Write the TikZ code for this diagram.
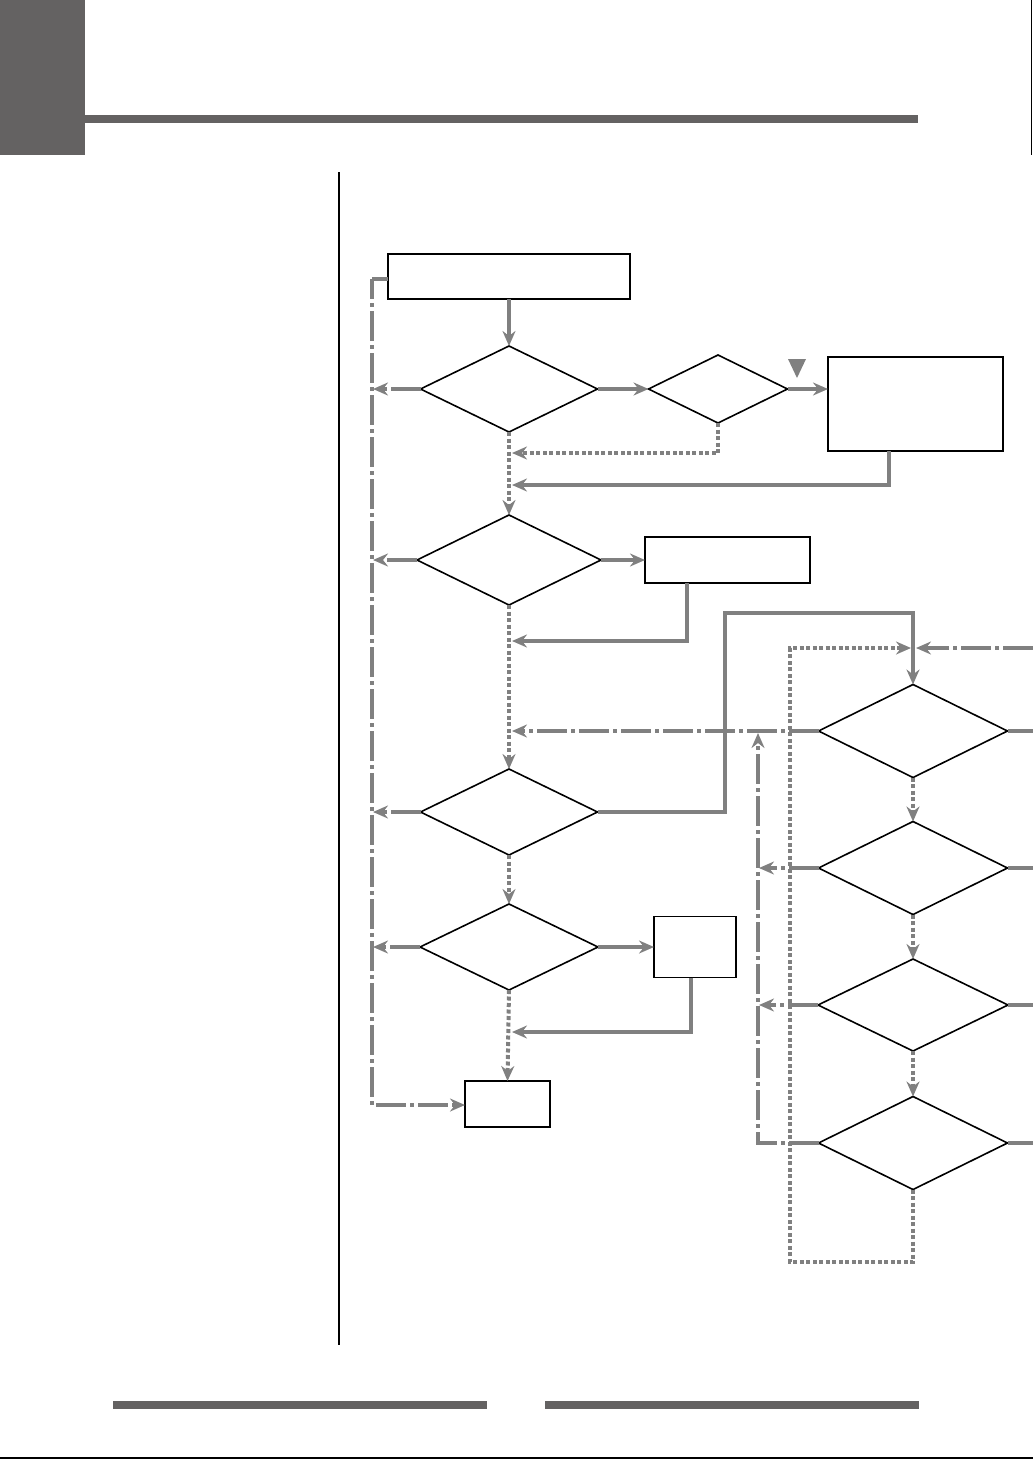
\documentclass[tikz,border=0pt]{standalone}
\usetikzlibrary{shapes.geometric,arrows.meta}
\definecolor{cgray}{HTML}{808080}
\definecolor{cdark}{HTML}{646262}
\tikzset{
  dia/.style={draw=black,line width=1.6pt,shape=diamond,inner sep=0pt,outer sep=0pt,fill=white},
  box/.style={draw=black,line width=1.6pt,rectangle,inner sep=0pt,outer sep=0pt,fill=white},
  conn/.style={draw=cgray,line width=4pt},
  tip/.style={-{Stealth[length=15pt,width=13pt,inset=5pt]}},
  solidc/.style={conn},
  dotc/.style={conn,dash pattern=on 4pt off 2.5pt},
  dashdotc/.style={conn,dash pattern=on 30pt off 4pt on 4pt off 4pt},
}
\begin{document}
\begin{tikzpicture}[x=1pt,y=-1pt]
\useasboundingbox (0,0) rectangle (1033,1459);
% page decoration
\fill[cdark] (0,0) rectangle (85,155);
\fill[cdark] (85,115) rectangle (918,122.5);
\draw[line width=1pt] (1031.5,0) -- (1031.5,155);
\draw[line width=2pt] (339,172) -- (339,1345);
\fill[cdark] (113,1401) rectangle (487,1409);
\fill[cdark] (545,1401) rectangle (919,1409);
\draw[line width=1.6pt] (0,1458) -- (1033,1458);

% nodes
\node[box,minimum width=242pt,minimum height=45pt] (S) at (509,276.5) {};
\node[dia,minimum width=177pt,minimum height=86pt] (D1) at (509,389) {};
\node[dia,minimum width=139pt,minimum height=68pt] (D2) at (718,389) {};
\node[box,minimum width=175pt,minimum height=94pt] (R1) at (915.5,404) {};
\node[dia,minimum width=184pt,minimum height=90pt] (D3) at (509,560) {};
\node[box,minimum width=165pt,minimum height=46pt] (R2) at (727.5,560) {};
\node[dia,minimum width=177pt,minimum height=86pt] (D4) at (509,812) {};
\node[dia,minimum width=178pt,minimum height=86pt] (D9) at (509,947) {};
\node[box,minimum width=82pt,minimum height=61pt] (R3) at (695,947) {};
\node[box,minimum width=85pt,minimum height=46pt] (E) at (507.5,1104) {};
\node[dia,minimum width=189pt,minimum height=93pt] (D5) at (913,731) {};
\node[dia,minimum width=189pt,minimum height=93pt] (D6) at (913,868) {};
\node[dia,minimum width=190pt,minimum height=92pt] (D7) at (913,1005) {};
\node[dia,minimum width=189pt,minimum height=93pt] (D8) at (913,1143) {};

% helper coordinates
\coordinate (L1) at (372,279);
\coordinate (L2) at (372,1105);
\coordinate (V) at (758,1143);
\coordinate (Vt) at (758,733);
\coordinate (Rin) at (1033,648);
\coordinate (Lp1) at (913,1262);
\coordinate (Lp2) at (790,1262);
\coordinate (Lp3) at (790,648);

% marker triangle
\fill[cgray] (788,359) -- (806,359) -- (797,378) -- cycle;

% main column
\draw[solidc,tip] (S.south) -- (D1.north);
\draw[solidc,tip] (D1.east) -- (D2.west);
\draw[solidc,tip] (D2.east) -- (D2.east -| R1.west);
\draw[dotc,tip] (D2.south) -- (718,453) -- (512,453);
\draw[solidc,tip] ([xshift=-26.5pt]R1.south) -- (889,485) -- (512,485);
\draw[dotc,tip] (D1.south) -- (D3.north);
\draw[solidc,tip] (D3.east) -- (R2.west);
\draw[solidc,tip] ([xshift=-40.5pt]R2.south) -- (687,641) -- (512,641);
\draw[dotc,tip] (D3.south) -- (D4.north);
\draw[solidc,tip] (D4.east) -- (725,812) -- (725,613) -- (913,613) -- (D5.north);
\draw[dotc,tip] (D4.south) -- (D9.north);
\draw[solidc,tip] (D9.east) -- (R3.west);
\draw[solidc,tip] ([xshift=-4pt]R3.south) -- (691,1032) -- (512,1032);
\draw[dotc,tip] (D9.south) -- (E.north);

% left exits
\draw[dashdotc,tip] (D1.west) -- (373,389);
\draw[dashdotc,tip] (D3.west) -- (373,560);
\draw[dashdotc,tip] (D4.west) -- (373,812);
\draw[dashdotc,tip] (D9.west) -- (373,947);
\draw[conn] (S.west |- L1) -- (L1);
\draw[dashdotc,tip,dash phase=10pt] (L1) -- (L2) -- (E.west |- L2);

% right column
\draw[dashdotc,tip] (D5.west) -- (512,731);
\draw[dotc,tip] (D5.south) -- (D6.north);
\draw[dotc,tip] (D6.south) -- (D7.north);
\draw[dotc,tip] (D7.south) -- (D8.north);
\draw[dashdotc,tip] (D6.west) -- (759,868);
\draw[dashdotc,tip] (D7.west) -- (759,1005);
\draw[dashdotc,tip] (D8.west) -- (V) -- (Vt);
\draw[dotc,tip] (D8.south) -- (Lp1) -- (Lp2) -- (Lp3) -- (911,648);
\draw[dashdotc,tip] (Rin) -- (916,648);
\draw[solidc] (D5.east) -- (1033,731);
\draw[solidc] (D6.east) -- (1033,868);
\draw[solidc] (D7.east) -- (1033,1005);
\draw[solidc] (D8.east) -- (1033,1143);
\end{tikzpicture}
\end{document}
